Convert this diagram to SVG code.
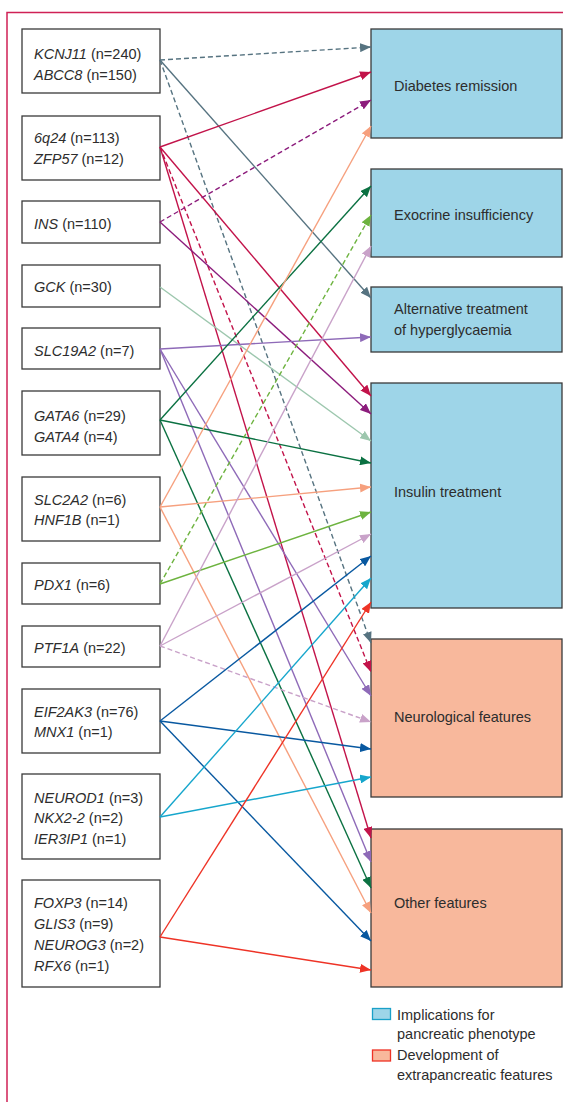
<svg xmlns="http://www.w3.org/2000/svg" width="563" height="1102" viewBox="0 0 563 1102">
<style>
.t{font-family:"Liberation Sans",Arial,sans-serif;font-size:14.5px;fill:#2d2d2d}
.i{font-style:italic}
.g{fill:#fff;stroke:#3a3a3a;stroke-width:1.3}
.pb{fill:#9ed5e8;stroke:#3a3a3a;stroke-width:1.3}
.pe{fill:#f8b89c;stroke:#3a3a3a;stroke-width:1.3}
.c{fill:none;stroke-width:1.4}
.d{stroke-dasharray:5 3}
</style>
<defs>
<marker id="m-sl" viewBox="0 0 11 9" refX="11" refY="4.5" markerWidth="11" markerHeight="9" markerUnits="userSpaceOnUse" orient="auto"><path d="M0,0L11,4.5L0,9z" fill="#567380"/></marker>
<marker id="m-cr" viewBox="0 0 11 9" refX="11" refY="4.5" markerWidth="11" markerHeight="9" markerUnits="userSpaceOnUse" orient="auto"><path d="M0,0L11,4.5L0,9z" fill="#c2134a"/></marker>
<marker id="m-pu" viewBox="0 0 11 9" refX="11" refY="4.5" markerWidth="11" markerHeight="9" markerUnits="userSpaceOnUse" orient="auto"><path d="M0,0L11,4.5L0,9z" fill="#8c1c7c"/></marker>
<marker id="m-gg" viewBox="0 0 11 9" refX="11" refY="4.5" markerWidth="11" markerHeight="9" markerUnits="userSpaceOnUse" orient="auto"><path d="M0,0L11,4.5L0,9z" fill="#9dc7ae"/></marker>
<marker id="m-lv" viewBox="0 0 11 9" refX="11" refY="4.5" markerWidth="11" markerHeight="9" markerUnits="userSpaceOnUse" orient="auto"><path d="M0,0L11,4.5L0,9z" fill="#8e6ab8"/></marker>
<marker id="m-dg" viewBox="0 0 11 9" refX="11" refY="4.5" markerWidth="11" markerHeight="9" markerUnits="userSpaceOnUse" orient="auto"><path d="M0,0L11,4.5L0,9z" fill="#0b7142"/></marker>
<marker id="m-sa" viewBox="0 0 11 9" refX="11" refY="4.5" markerWidth="11" markerHeight="9" markerUnits="userSpaceOnUse" orient="auto"><path d="M0,0L11,4.5L0,9z" fill="#f6a07e"/></marker>
<marker id="m-lg" viewBox="0 0 11 9" refX="11" refY="4.5" markerWidth="11" markerHeight="9" markerUnits="userSpaceOnUse" orient="auto"><path d="M0,0L11,4.5L0,9z" fill="#6db33f"/></marker>
<marker id="m-ma" viewBox="0 0 11 9" refX="11" refY="4.5" markerWidth="11" markerHeight="9" markerUnits="userSpaceOnUse" orient="auto"><path d="M0,0L11,4.5L0,9z" fill="#c9a2c9"/></marker>
<marker id="m-db" viewBox="0 0 11 9" refX="11" refY="4.5" markerWidth="11" markerHeight="9" markerUnits="userSpaceOnUse" orient="auto"><path d="M0,0L11,4.5L0,9z" fill="#0858a0"/></marker>
<marker id="m-cy" viewBox="0 0 11 9" refX="11" refY="4.5" markerWidth="11" markerHeight="9" markerUnits="userSpaceOnUse" orient="auto"><path d="M0,0L11,4.5L0,9z" fill="#16a6cc"/></marker>
<marker id="m-rd" viewBox="0 0 11 9" refX="11" refY="4.5" markerWidth="11" markerHeight="9" markerUnits="userSpaceOnUse" orient="auto"><path d="M0,0L11,4.5L0,9z" fill="#ee3326"/></marker>
</defs>
<g id="frame" fill="none" stroke="#cf2156" stroke-width="1.5">
<path d="M563,12.5H7V1102"/>
</g>
<g id="gene-kcnj11"><rect class="g" x="22" y="29" width="138" height="64"/><text class="t" x="34" y="59"><tspan class="i">KCNJ11</tspan> (n=240)</text><text class="t" x="34" y="80"><tspan class="i">ABCC8</tspan> (n=150)</text></g>
<g id="gene-6q24"><rect class="g" x="22" y="116" width="138" height="64"/><text class="t" x="34" y="143"><tspan class="i">6q24</tspan> (n=113)</text><text class="t" x="34" y="164"><tspan class="i">ZFP57</tspan> (n=12)</text></g>
<g id="gene-ins"><rect class="g" x="22" y="201" width="138" height="42"/><text class="t" x="34" y="229"><tspan class="i">INS</tspan> (n=110)</text></g>
<g id="gene-gck"><rect class="g" x="22" y="265" width="138" height="42"/><text class="t" x="34" y="292"><tspan class="i">GCK</tspan> (n=30)</text></g>
<g id="gene-slc19a2"><rect class="g" x="22" y="328" width="138" height="41"/><text class="t" x="34" y="356"><tspan class="i">SLC19A2</tspan> (n=7)</text></g>
<g id="gene-gata6"><rect class="g" x="22" y="391" width="138" height="64"/><text class="t" x="34" y="421"><tspan class="i">GATA6</tspan> (n=29)</text><text class="t" x="34" y="442"><tspan class="i">GATA4</tspan> (n=4)</text></g>
<g id="gene-slc2a2"><rect class="g" x="22" y="477" width="138" height="64"/><text class="t" x="34" y="505"><tspan class="i">SLC2A2</tspan> (n=6)</text><text class="t" x="34" y="525"><tspan class="i">HNF1B</tspan> (n=1)</text></g>
<g id="gene-pdx1"><rect class="g" x="22" y="563" width="138" height="41"/><text class="t" x="34" y="590"><tspan class="i">PDX1</tspan> (n=6)</text></g>
<g id="gene-ptf1a"><rect class="g" x="22" y="626" width="138" height="41"/><text class="t" x="34" y="653"><tspan class="i">PTF1A</tspan> (n=22)</text></g>
<g id="gene-eif2ak3"><rect class="g" x="22" y="689" width="138" height="64"/><text class="t" x="34" y="717"><tspan class="i">EIF2AK3</tspan> (n=76)</text><text class="t" x="34" y="737"><tspan class="i">MNX1</tspan> (n=1)</text></g>
<g id="gene-neurod1"><rect class="g" x="22" y="774" width="138" height="85"/><text class="t" x="34" y="803"><tspan class="i">NEUROD1</tspan> (n=3)</text><text class="t" x="34" y="823"><tspan class="i">NKX2-2</tspan> (n=2)</text><text class="t" x="34" y="844"><tspan class="i">IER3IP1</tspan> (n=1)</text></g>
<g id="gene-foxp3"><rect class="g" x="22" y="880" width="138" height="107"/><text class="t" x="34" y="908"><tspan class="i">FOXP3</tspan> (n=14)</text><text class="t" x="34" y="929"><tspan class="i">GLIS3</tspan> (n=9)</text><text class="t" x="34" y="950"><tspan class="i">NEUROG3</tspan> (n=2)</text><text class="t" x="34" y="971"><tspan class="i">RFX6</tspan> (n=1)</text></g>
<g id="out-diabetes-remission"><rect class="pb" x="371" y="29" width="191" height="109"/><text class="t" x="394" y="91">Diabetes remission</text></g>
<g id="out-exocrine"><rect class="pb" x="371" y="169" width="191" height="88"/><text class="t" x="394" y="220">Exocrine insufficiency</text></g>
<g id="out-alternative"><rect class="pb" x="371" y="287" width="191" height="65"/><text class="t" x="394" y="314">Alternative treatment</text><text class="t" x="394" y="335">of hyperglycaemia</text></g>
<g id="out-insulin"><rect class="pb" x="371" y="383" width="191" height="225"/><text class="t" x="394" y="497">Insulin treatment</text></g>
<g id="out-neurological"><rect class="pe" x="371" y="639" width="191" height="158"/><text class="t" x="394" y="722">Neurological features</text></g>
<g id="out-other"><rect class="pe" x="371" y="829" width="191" height="158"/><text class="t" x="394" y="908">Other features</text></g>
<g id="connectors">
<line class="c d" stroke="#567380" marker-end="url(#m-sl)" x1="160" y1="60" x2="371" y2="47"/>
<line class="c" stroke="#567380" marker-end="url(#m-sl)" x1="160" y1="60" x2="371" y2="298"/>
<line class="c d" stroke="#567380" marker-end="url(#m-sl)" x1="160" y1="60" x2="371" y2="643"/>
<line class="c" stroke="#c2134a" marker-end="url(#m-cr)" x1="160" y1="147" x2="371" y2="72"/>
<line class="c" stroke="#c2134a" marker-end="url(#m-cr)" x1="160" y1="147" x2="371" y2="396"/>
<line class="c d" stroke="#c2134a" marker-end="url(#m-cr)" x1="160" y1="147" x2="371" y2="672"/>
<line class="c" stroke="#c2134a" marker-end="url(#m-cr)" x1="160" y1="147" x2="371" y2="838"/>
<line class="c d" stroke="#8c1c7c" marker-end="url(#m-pu)" x1="160" y1="222" x2="371" y2="100"/>
<line class="c" stroke="#8c1c7c" marker-end="url(#m-pu)" x1="160" y1="222" x2="371" y2="414"/>
<line class="c" stroke="#9dc7ae" marker-end="url(#m-gg)" x1="160" y1="287" x2="371" y2="441"/>
<line class="c" stroke="#8e6ab8" marker-end="url(#m-lv)" x1="160" y1="349" x2="371" y2="337"/>
<line class="c" stroke="#8e6ab8" marker-end="url(#m-lv)" x1="160" y1="349" x2="371" y2="696"/>
<line class="c" stroke="#8e6ab8" marker-end="url(#m-lv)" x1="160" y1="349" x2="371" y2="862"/>
<line class="c" stroke="#0b7142" marker-end="url(#m-dg)" x1="160" y1="420" x2="371" y2="186"/>
<line class="c" stroke="#0b7142" marker-end="url(#m-dg)" x1="160" y1="420" x2="371" y2="463"/>
<line class="c" stroke="#0b7142" marker-end="url(#m-dg)" x1="160" y1="420" x2="371" y2="888"/>
<line class="c" stroke="#f6a07e" marker-end="url(#m-sa)" x1="160" y1="507" x2="371" y2="126"/>
<line class="c" stroke="#f6a07e" marker-end="url(#m-sa)" x1="160" y1="507" x2="371" y2="487"/>
<line class="c" stroke="#f6a07e" marker-end="url(#m-sa)" x1="160" y1="507" x2="371" y2="913"/>
<line class="c d" stroke="#6db33f" marker-end="url(#m-lg)" x1="160" y1="584" x2="371" y2="215"/>
<line class="c" stroke="#6db33f" marker-end="url(#m-lg)" x1="160" y1="584" x2="371" y2="512"/>
<line class="c" stroke="#c9a2c9" marker-end="url(#m-ma)" x1="160" y1="646" x2="371" y2="246"/>
<line class="c" stroke="#c9a2c9" marker-end="url(#m-ma)" x1="160" y1="646" x2="371" y2="534"/>
<line class="c d" stroke="#c9a2c9" marker-end="url(#m-ma)" x1="160" y1="646" x2="371" y2="722"/>
<line class="c" stroke="#0858a0" marker-end="url(#m-db)" x1="160" y1="721" x2="371" y2="556"/>
<line class="c" stroke="#0858a0" marker-end="url(#m-db)" x1="160" y1="721" x2="371" y2="749"/>
<line class="c" stroke="#0858a0" marker-end="url(#m-db)" x1="160" y1="721" x2="371" y2="941"/>
<line class="c" stroke="#16a6cc" marker-end="url(#m-cy)" x1="160" y1="817" x2="371" y2="578"/>
<line class="c" stroke="#16a6cc" marker-end="url(#m-cy)" x1="160" y1="817" x2="371" y2="777"/>
<line class="c" stroke="#ee3326" marker-end="url(#m-rd)" x1="160" y1="937" x2="371" y2="602"/>
<line class="c" stroke="#ee3326" marker-end="url(#m-rd)" x1="160" y1="937" x2="371" y2="970"/>
</g>
<g id="legend">
<rect x="372.5" y="1008.5" width="18" height="11" fill="#9ed5e8" stroke="#1aa0c8" stroke-width="1.3"/>
<text class="t" x="397" y="1020">Implications for</text>
<text class="t" x="397" y="1039">pancreatic phenotype</text>
<rect x="372.5" y="1050" width="18" height="11" fill="#f8b89c" stroke="#ee3326" stroke-width="1.3"/>
<text class="t" x="397" y="1060">Development of</text>
<text class="t" x="397" y="1080">extrapancreatic features</text>
</g>
</svg>
